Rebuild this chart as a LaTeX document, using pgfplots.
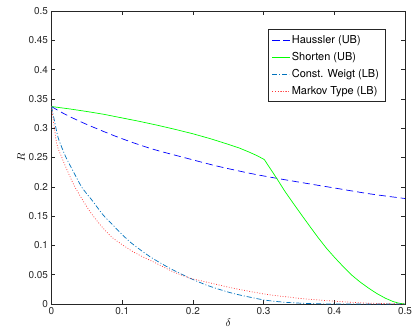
\documentclass[border=0pt]{standalone}
\usepackage{pgfplots}
\pgfplotsset{compat=1.18}
\usepackage{fontspec}
\setsansfont{TeX Gyre Heros}
\definecolor{axgray}{rgb}{0.15,0.15,0.15}
\definecolor{cwblue}{rgb}{0,0.447,0.741}
\begin{document}
\begin{tikzpicture}
\begin{axis}[
  at={(0,0)}, anchor=south west,
  scale only axis, width=353.5bp, height=293bp,
  xmin=0, xmax=0.5, ymin=0, ymax=0.5,
  xtick={0,0.1,...,0.5}, ytick={0,0.05,...,0.5},
  tick align=inside, major tick length=4bp,
  axis line style={axgray, line width=0.5bp},
  every tick/.style={axgray, line width=0.5bp},
  tick label style={font=\fontsize{10}{12}\selectfont\sffamily, text=axgray},
  /pgf/number format/assume math mode=true,
  /pgf/number format/fixed, /pgf/number format/precision=2,
  xlabel={$\delta$}, ylabel={$R$},
  label style={font=\fontsize{10.5}{12}\selectfont},
  xlabel style={yshift=3bp},
  ylabel style={yshift=-3bp},
  legend cell align=left,
  legend style={at={(0.944,0.9375)}, anchor=north east, draw=axgray, line width=0.5bp,
    font=\fontsize{11}{13}\selectfont\sffamily, row sep=3.3bp, inner xsep=4bp, inner ysep=4bp},
  legend image post style={line width=0.7bp},
]
\addplot[blue, line width=0.7bp, dash pattern=on 7bp off 4bp, smooth] coordinates {
(0,0.337) (0.0167,0.3254) (0.045,0.309) (0.0922,0.2855) (0.1393,0.2657) (0.1864,0.2503) (0.2337,0.2355) (0.2808,0.223) (0.3185,0.2145) (0.36,0.206) (0.4,0.198) (0.45,0.188) (0.5,0.180)};
\addlegendentry{Haussler (UB)}
\addplot[green, line width=0.7bp] coordinates {
(0,0.337) (0.025,0.333) (0.05,0.3285) (0.075,0.3235) (0.1,0.3175) (0.125,0.3115) (0.15,0.305) (0.175,0.298) (0.2,0.2905) (0.225,0.282) (0.25,0.2725) (0.265,0.2665) (0.28,0.259) (0.291,0.253) (0.301,0.2465)
(0.3185,0.2145) (0.33,0.1925) (0.342,0.1718) (0.354,0.1515) (0.3657,0.132) (0.377,0.1135) (0.389,0.095) (0.401,0.0787) (0.4127,0.0637) (0.424,0.050) (0.436,0.038) (0.448,0.0275) (0.46,0.018) (0.472,0.010) (0.4835,0.004) (0.492,0.0012) (0.5,0)};
\addlegendentry{Shorten (UB)}
\addplot[cwblue, line width=0.7bp, dash pattern=on 5bp off 2bp on 1bp off 2bp, smooth, tension=0.4] coordinates {
(0,0.337) (0.005,0.308) (0.0096,0.283) (0.0198,0.252) (0.03,0.228) (0.043,0.199) (0.057,0.1775) (0.073,0.152) (0.085,0.137) (0.097,0.122) (0.111,0.106) (0.125,0.093) (0.139,0.081) (0.154,0.070) (0.172,0.058) (0.196,0.044) (0.222,0.031) (0.257,0.018) (0.3,0.007) (0.33,0.003) (0.36,0.001) (0.4,0.0) (0.5,0)};
\addlegendentry{Const. Weigt (LB)}
\addplot[red!80, line width=0.7bp, dash pattern=on 0.8bp off 1.8bp, smooth, tension=0.4] coordinates {
(0,0.337) (0.0073,0.274) (0.0144,0.251) (0.019,0.237) (0.033,0.2) (0.0545,0.1575) (0.0733,0.129) (0.0874,0.112) (0.1016,0.1) (0.1157,0.089) (0.13,0.08) (0.149,0.069) (0.172,0.055) (0.196,0.044) (0.21,0.040) (0.257,0.027) (0.304,0.0165) (0.351,0.0097) (0.398,0.005) (0.446,0.0015) (0.5,0)};
\addlegendentry{Markov Type (LB)}
\end{axis}
\pgfresetboundingbox
\path (-51.5bp,-32bp) rectangle (360.5bp,304bp);
\end{tikzpicture}
\end{document}
